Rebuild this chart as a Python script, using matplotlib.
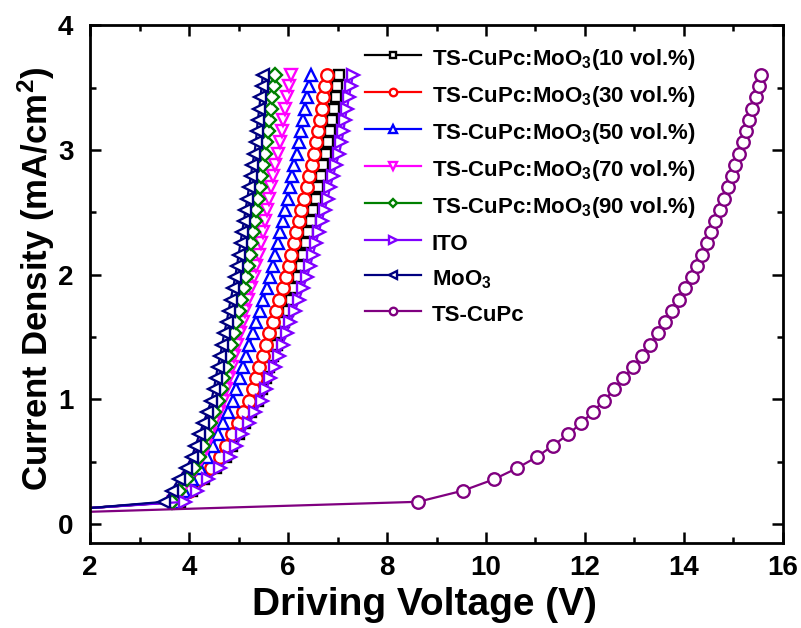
import matplotlib
matplotlib.use("Agg")
import matplotlib.pyplot as plt

# current density steps shared by all devices (mA/cm2)
current = [0.13, 0.18, 0.27, 0.36, 0.45, 0.54, 0.63, 0.72, 0.81, 0.90, 0.99,
           1.08, 1.17, 1.26, 1.35, 1.44, 1.53, 1.62, 1.71, 1.80, 1.89, 1.98,
           2.07, 2.16, 2.25, 2.34, 2.43, 2.52, 2.61, 2.70, 2.79, 2.88, 2.97,
           3.06, 3.15, 3.24, 3.33, 3.42, 3.51, 3.60]
current_tscupc = [0.10] + current[1:]

# driving voltage (V) for each device
v_10 = [2.0, 3.82, 4.06, 4.30, 4.55, 4.74, 4.87, 5.00, 5.13, 5.26, 5.40,
        5.47, 5.55, 5.62, 5.69, 5.77, 5.84, 5.91, 5.99, 6.06, 6.13, 6.20,
        6.26, 6.31, 6.36, 6.41, 6.46, 6.51, 6.56, 6.61, 6.66, 6.71, 6.76,
        6.80, 6.84, 6.88, 6.92, 6.96, 6.99, 7.03]
v_30 = [2.0, 3.76, 3.99, 4.22, 4.45, 4.63, 4.75, 4.87, 4.98, 5.10, 5.22,
        5.29, 5.36, 5.42, 5.49, 5.56, 5.62, 5.69, 5.76, 5.82, 5.89, 5.96,
        6.01, 6.06, 6.12, 6.17, 6.22, 6.27, 6.32, 6.38, 6.43, 6.48, 6.53,
        6.57, 6.61, 6.64, 6.68, 6.71, 6.75, 6.78]
v_50 = [2.0, 3.72, 3.89, 4.06, 4.23, 4.37, 4.48, 4.58, 4.68, 4.78, 4.88,
        4.95, 5.02, 5.09, 5.16, 5.22, 5.29, 5.36, 5.43, 5.50, 5.57, 5.63,
        5.69, 5.74, 5.79, 5.84, 5.89, 5.94, 5.99, 6.04, 6.08, 6.13, 6.18,
        6.23, 6.27, 6.30, 6.34, 6.38, 6.42, 6.46]
v_70 = [2.0, 3.70, 3.85, 3.99, 4.14, 4.26, 4.34, 4.43, 4.51, 4.60, 4.68,
        4.74, 4.80, 4.86, 4.91, 4.97, 5.03, 5.09, 5.14, 5.20, 5.26, 5.32,
        5.36, 5.41, 5.45, 5.49, 5.53, 5.57, 5.62, 5.66, 5.70, 5.74, 5.79,
        5.83, 5.87, 5.90, 5.94, 5.98, 6.02, 6.06]
v_90 = [2.0, 3.65, 3.80, 3.95, 4.10, 4.21, 4.29, 4.36, 4.43, 4.51, 4.58,
        4.64, 4.69, 4.74, 4.79, 4.85, 4.90, 4.95, 5.00, 5.05, 5.11, 5.16,
        5.20, 5.23, 5.26, 5.30, 5.33, 5.36, 5.40, 5.43, 5.46, 5.50, 5.53,
        5.56, 5.59, 5.62, 5.65, 5.68, 5.71, 5.74]
v_ito = [2.0, 3.92, 4.16, 4.39, 4.63, 4.82, 4.95, 5.08, 5.21, 5.34, 5.47,
         5.56, 5.64, 5.73, 5.81, 5.89, 5.97, 6.05, 6.14, 6.22, 6.30, 6.38,
         6.45, 6.50, 6.56, 6.62, 6.68, 6.74, 6.80, 6.85, 6.91, 6.97, 7.03,
         7.08, 7.12, 7.15, 7.19, 7.23, 7.27, 7.31]
v_moo3 = [2.0, 3.50, 3.65, 3.79, 3.94, 4.06, 4.13, 4.21, 4.29, 4.37, 4.45,
          4.50, 4.54, 4.58, 4.63, 4.67, 4.71, 4.76, 4.80, 4.84, 4.89, 4.93,
          4.97, 5.00, 5.04, 5.07, 5.11, 5.14, 5.18, 5.21, 5.25, 5.28, 5.32,
          5.35, 5.37, 5.39, 5.42, 5.44, 5.47, 5.49]
v_tscupc = [2.0, 8.63, 9.54, 10.16, 10.63, 11.03, 11.35, 11.66, 11.92, 12.16,
            12.38, 12.59, 12.77, 12.97, 13.15, 13.31, 13.47, 13.62, 13.76,
            13.89, 14.02, 14.16, 14.27, 14.37, 14.46, 14.55, 14.63, 14.72,
            14.81, 14.89, 14.96, 15.04, 15.11, 15.19, 15.26, 15.32, 15.38,
            15.45, 15.51, 15.56]

labels = ["TS-CuPc:MoO$_3$(10 vol.%)", "TS-CuPc:MoO$_3$(30 vol.%)",
          "TS-CuPc:MoO$_3$(50 vol.%)", "TS-CuPc:MoO$_3$(70 vol.%)",
          "TS-CuPc:MoO$_3$(90 vol.%)", "ITO", "MoO$_3$", "TS-CuPc"]
colors = ["#000000", "#ff0000", "#0000ff", "#ff00ff", "#008000",
          "#8000ff", "#000080", "#800080"]
markers = ["s", "o", "^", "v", "D", ">", "<", "o"]

plt.rcParams["font.family"] = ["Liberation Sans", "DejaVu Sans"]
plt.rcParams["font.weight"] = "bold"
plt.rcParams["mathtext.fontset"] = "custom"
plt.rcParams["mathtext.rm"] = "Liberation Sans:bold"
plt.rcParams["mathtext.bf"] = "Liberation Sans:bold"
plt.rcParams["mathtext.default"] = "rm"

fig = plt.figure(figsize=(8.01, 6.28), dpi=100)
ax = fig.add_axes([0.1124, 0.1354, 0.8651, 0.8246])

voltages = [v_10, v_30, v_50, v_70, v_90, v_ito, v_moo3, v_tscupc]
for i, v in enumerate(voltages):
    j = current_tscupc if labels[i] == "TS-CuPc" else current
    ms = 7 if markers[i] in ("s", "D") else 9
    ax.plot(v, j, color=colors[i], marker=markers[i], markevery=slice(1, None),
            ms=ms, mfc="white", mec=colors[i], mew=1.7, lw=1.6,
            label=labels[i])

ax.set_xlim(2, 16)
ax.set_ylim(-0.15, 4)
ax.set_xticks(range(2, 17, 2))
ax.set_xticks(range(3, 16, 2), minor=True)
ax.set_yticks([0, 1, 2, 3, 4])
ax.set_yticks([0.5, 1.5, 2.5, 3.5], minor=True)
ax.tick_params(which="both", direction="in", top=True, right=True,
               width=1.8, labelsize=20)
ax.tick_params(axis="x", pad=9)
ax.tick_params(axis="y", pad=12)
ax.tick_params(which="major", length=8)
ax.tick_params(which="minor", length=4)
for s in ax.spines.values():
    s.set_linewidth(2)

ax.set_xlabel("Driving Voltage (V)", fontsize=28, fontweight="bold", labelpad=0)
ax.xaxis.set_label_coords(0.482, -0.085)
ax.set_ylabel("Current Density (mA/cm$^2$)", fontsize=25, fontweight="bold")
ax.yaxis.set_label_coords(-0.047, 0.51)

leg = ax.legend(loc="upper left", bbox_to_anchor=(0.384, 0.979), frameon=False,
                fontsize=16, handlelength=2.5, handletextpad=0.5,
                handleheight=1.45, labelspacing=0.42, markerscale=0.6,
                borderaxespad=0)

fig.savefig("out.png", dpi=100)
